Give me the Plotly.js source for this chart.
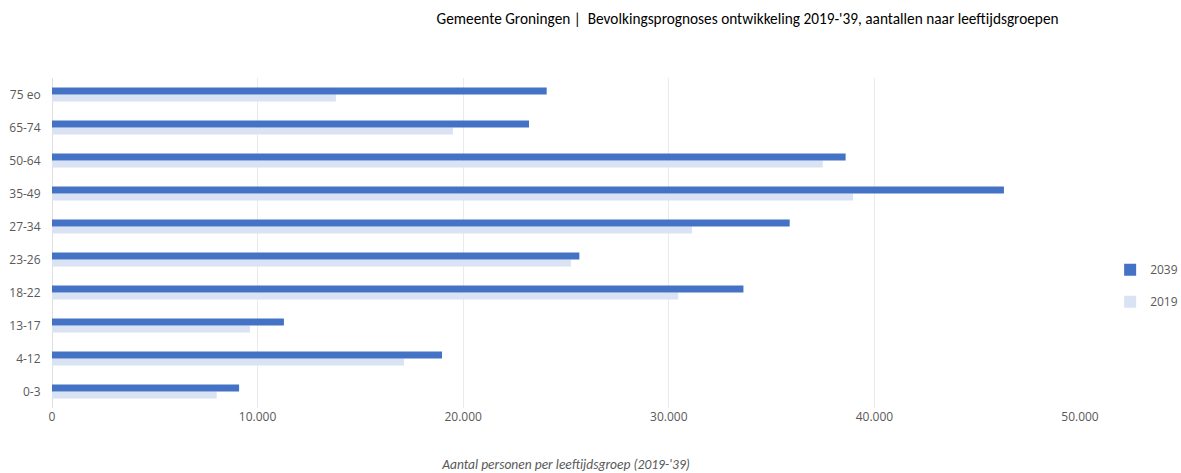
<!DOCTYPE html>
<html>
<head>
<meta charset="utf-8">
<script src="https://cdn.plot.ly/plotly-3.0.1.min.js"></script>
<style>html,body{margin:0;padding:0;background:#fff;}#chart{width:1181px;height:473px;}</style>
</head>
<body>
<div id="chart"></div>
<script>
const categories = ["0-3", "4-12", "13-17", "18-22", "23-26", "27-34", "35-49", "50-64", "65-74", "75 eo"];
const values2019 = [8010, 17120, 9630, 30460, 25240, 31130, 38960, 37490, 19500, 13810];
const values2039 = [9100, 18970, 11280, 33630, 25650, 35880, 46300, 38600, 23200, 24060];
const xTicks = [0, 10000, 20000, 30000, 40000, 50000];

const titleFont = "Carlito, 'Liberation Sans Narrow', Lato, sans-serif";
const tickFont = "'Open Sans', sans-serif";

const traces = [
  {type: 'bar', orientation: 'h', name: '2019', y: categories, x: values2019,
   marker: {color: '#dae3f3'}, legendgroup: 'a', legendrank: 2, hoverinfo: 'x+y'},
  {type: 'bar', orientation: 'h', name: '2039', y: categories, x: values2039,
   marker: {color: '#4472c4'}, legendgroup: 'b', legendrank: 1, hoverinfo: 'x+y'}
];

const layout = {
  width: 1181, height: 473,
  margin: {l: 52, r: 101, t: 78, b: 65},
  paper_bgcolor: '#ffffff', plot_bgcolor: '#ffffff',
  separators: ',.',
  barmode: 'group', bargap: 0.57, bargroupgap: 0,
  font: {family: tickFont, color: '#595959', size: 12},
  title: {text: "Gemeente Groningen |  Bevolkingsprognoses ontwikkeling 2019-'39, aantallen naar leeftijdsgroepen",
          font: {family: titleFont, size: 15.3, color: '#000000'}, x: 0.633, xanchor: 'center', y: 0.96, yanchor: 'middle'},
  xaxis: {range: [0, 50000], tickvals: xTicks, tickformat: ',d', showgrid: true, gridcolor: '#ebebeb', gridwidth: 1,
          zeroline: true, zerolinecolor: '#e0e0e0', showline: false, ticks: '', ticklen: 0, automargin: false,
          tickfont: {family: tickFont, size: 12, color: '#595959'},
          title: {text: "Aantal personen per leeftijdsgroep (2019-'39)", font: {family: titleFont, size: 13.5, color: '#595959', style: 'italic'}, standoff: 38}},
  yaxis: {type: 'category', categoryorder: 'array', categoryarray: categories, showgrid: false, showline: false, automargin: false,
          zeroline: false, ticks: 'outside', ticklen: 8, tickcolor: 'rgba(0,0,0,0)', tickfont: {family: tickFont, size: 12, color: '#595959'}},
  showlegend: true,
  legend: {xref: 'container', yref: 'container', x: 0.94, xanchor: 'left', y: 0.396, yanchor: 'middle', traceorder: 'grouped', tracegroupgap: 13,
           font: {family: tickFont, size: 12, color: '#595959'}, bgcolor: 'rgba(0,0,0,0)', itemwidth: 30}
};

Plotly.newPlot('chart', traces, layout, {displayModeBar: false, staticPlot: true});
</script>
</body>
</html>
